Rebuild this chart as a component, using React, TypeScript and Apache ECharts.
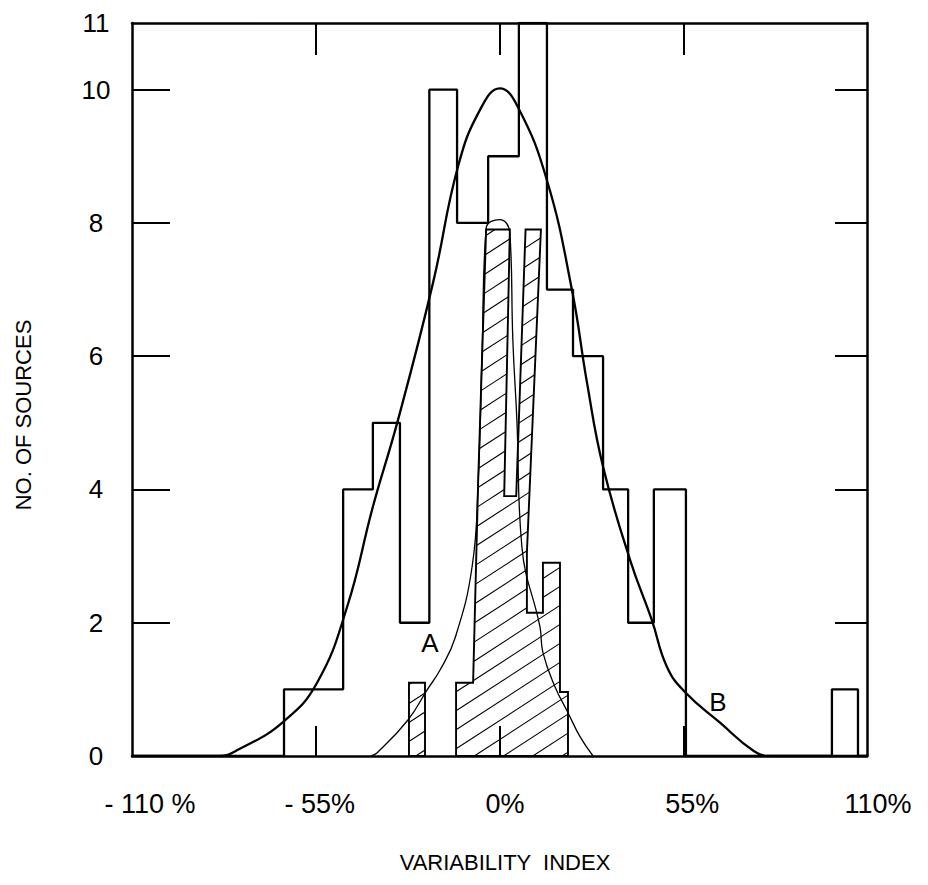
import React, { useEffect, useRef } from "react";
import * as echarts from "echarts";

// ---- data ----
// Outline histogram (broad distribution, curve B)
const binEdgesB = [-64.5, -46.8, -37.9, -29.8, -21.0, -12.7, -3.4, 5.8, 14.2, 22.0, 31.0, 38.5, 46.2, 55.8];
const countsB = [1, 4, 5, 2, 10, 8, 9, 11, 7, 6, 4, 2, 4];
const outlierEdgesB = [99.5, 107.3];
const outlierCountsB = [1];

// Hatched histogram (narrow distribution, curve A), outlines as [x %, count] vertices
const hatchSmallBar = [[-27.1, 0], [-27.1, 1.1], [-22.3, 1.1], [-22.3, 0]];
const hatchMainBars = [
  [-13.0, 0], [-13.0, 1.1], [-7.9, 1.1], [-6.4, 4.1], [-4.0, 7.9], [3.1, 7.9],
  [1.4, 3.9], [5.0, 3.9], [7.8, 7.9], [12.4, 7.9], [8.2, 3.05], [8.2, 2.15],
  [13.0, 2.15], [13.0, 2.9], [18.1, 2.9], [18.1, 0.96], [20.5, 0.96], [20.5, 0],
];
const hatchPolygons = [hatchSmallBar, hatchMainBars];

// Curve B (broad)
const curveB = [
  [-110, 0], [-84, 0], [-78, 0.1], [-64.8, 0.51], [-54.6, 1.1], [-45.6, 2.24], [-37.9, 3.74],
  [-30.4, 5.04], [-19.9, 7.1], [-12.4, 8.85], [-5.8, 9.7], [0.1, 10.02], [5.5, 9.74],
  [14.2, 8.64], [21.7, 6.99], [26.2, 5.6], [31.0, 4.34], [39.1, 2.94], [45.6, 2.04],
  [50.1, 1.34], [55.5, 0.96], [66.0, 0.5], [76, 0.08], [81, 0], [110, 0],
];
// Curve A (narrow)
const curveA = [
  [-38.5, 0], [-36.6, 0.05], [-27.4, 0.54], [-21.7, 0.99], [-17.8, 1.29], [-13.3, 1.77],
  [-8.2, 2.84], [-6.4, 4.1], [-5.2, 6.09], [-4.0, 7.92], [0.1, 8.05], [3.1, 7.85],
  [4.0, 6.24], [5.2, 5.04], [6.7, 3.14], [12.1, 1.94], [13.0, 1.55], [16.6, 1.04],
  [20.5, 0.65], [24.1, 0.29], [28.0, 0],
];

const curveLabels = [[-20.8, 1.7, "A"], [65.4, 0.81, "B"]];

const xTickValues = [-110, -55, 0, 55, 110];
const xTickLabels = ["- 110 %", "- 55%", "0%", "55%", "110%"];
const xMarkValues = [-55, 0, 55];
const yLabelValues = [0, 2, 4, 6, 8, 10, 11];
const yMarkValues = [2, 4, 6, 8, 10];

const X_TITLE = "VARIABILITY  INDEX";
const Y_TITLE = "NO. OF SOURCES";

// ---- styles ----
const FONT = '"Liberation Sans", Arial, sans-serif';
const xLabelShift = [18, 4, 5.5, 9, 11];

function stepOutline(edges: number[], counts: number[]) {
  const pts: number[][] = [[edges[0], 0]];
  for (let i = 0; i < counts.length; i++) {
    pts.push([edges[i], counts[i]]);
    pts.push([edges[i + 1], counts[i]]);
  }
  pts.push([edges[edges.length - 1], 0]);
  return pts;
}

export default function App() {
  const ref = useRef<HTMLDivElement>(null);
  useEffect(() => {
    if (!ref.current) return;
    const chart = echarts.init(ref.current, null, { renderer: "svg" });

    const outline = [
      [-110, 0],
      ...stepOutline(binEdgesB, countsB),
      ...stepOutline(outlierEdgesB, outlierCountsB),
      [110, 0],
    ];

    const hatchTan = Math.tan((33 * Math.PI) / 180);
    const hatchGap = 19;

    const rich: any = {};
    xTickLabels.forEach((_, i) => {
      rich["l" + i] = {
        fontSize: 27,
        fontFamily: FONT,
        color: "#000",
        padding: [0, 0, 0, xLabelShift[i] * 2],
      };
    });

    const axisLineStyle = { color: "#000", width: 2.5 };

    const option: any = {
      animation: false,
      backgroundColor: "#fff",
      grid: { left: 132, right: 61, top: 23, bottom: 129, containLabel: false },
      xAxis: [
        {
          type: "value",
          min: -110,
          max: 110,
          position: "bottom",
          axisLine: { show: true, onZero: false, lineStyle: axisLineStyle },
          axisTick: {
            show: true,
            inside: true,
            length: 30,
            customValues: xMarkValues,
            lineStyle: { color: "#000", width: 2 },
          },
          axisLabel: {
            show: true,
            customValues: xTickValues,
            margin: 34,
            formatter: (v: number) => {
              const i = xTickValues.indexOf(v);
              return "{l" + i + "|" + xTickLabels[i] + "}";
            },
            rich,
          },
          splitLine: { show: false },
        },
        {
          type: "value",
          min: -110,
          max: 110,
          position: "top",
          axisLine: { show: true, onZero: false, lineStyle: axisLineStyle },
          axisTick: {
            show: true,
            inside: true,
            length: 32,
            customValues: xMarkValues,
            lineStyle: { color: "#000", width: 2 },
          },
          axisLabel: { show: false },
          splitLine: { show: false },
        },
      ],
      yAxis: [
        {
          type: "value",
          min: 0,
          max: 11,
          position: "left",
          axisLine: { show: true, onZero: false, lineStyle: axisLineStyle },
          axisTick: {
            show: true,
            inside: true,
            length: 38,
            customValues: yMarkValues,
            lineStyle: { color: "#000", width: 2 },
          },
          axisLabel: {
            show: true,
            customValues: yLabelValues,
            align: "center",
            margin: 36,
            fontSize: 26,
            fontFamily: FONT,
            color: "#000",
          },
          splitLine: { show: false },
        },
        {
          type: "value",
          min: 0,
          max: 11,
          position: "right",
          axisLine: { show: true, onZero: false, lineStyle: axisLineStyle },
          axisTick: {
            show: true,
            inside: true,
            length: 32,
            customValues: yMarkValues,
            lineStyle: { color: "#000", width: 2 },
          },
          axisLabel: { show: false },
          splitLine: { show: false },
        },
      ],
      graphic: [
        {
          type: "text",
          x: 505,
          y: 862,
          style: {
            text: X_TITLE,
            align: "center",
            verticalAlign: "middle",
            fontSize: 22,
            fontFamily: FONT,
            fill: "#000",
          },
        },
        {
          type: "text",
          x: 23,
          y: 415,
          rotation: Math.PI / 2,
          style: {
            text: Y_TITLE,
            align: "center",
            verticalAlign: "middle",
            fontSize: 22,
            fontFamily: FONT,
            fill: "#000",
          },
        },
      ],
      series: [
        {
          type: "custom",
          name: "hatched",
          xAxisIndex: 0,
          yAxisIndex: 0,
          data: hatchPolygons.map((_, i) => [i]),
          clip: true,
          renderItem: (params: any, api: any) => {
            const poly = hatchPolygons[api.value(0)];
            const pts = poly.map((p) => api.coord(p));
            const children: any[] = [];
            let cMin = Infinity;
            let cMax = -Infinity;
            pts.forEach((p: number[]) => {
              const c = p[1] + hatchTan * p[0];
              cMin = Math.min(cMin, c);
              cMax = Math.max(cMax, c);
            });
            const n = pts.length;
            for (let c = Math.ceil(cMin / hatchGap) * hatchGap; c < cMax; c += hatchGap) {
              const xs: number[] = [];
              for (let i = 0; i < n; i++) {
                const p1 = pts[i];
                const p2 = pts[(i + 1) % n];
                const f1 = p1[1] + hatchTan * p1[0] - c;
                const f2 = p2[1] + hatchTan * p2[0] - c;
                if (f1 > 0 !== f2 > 0) {
                  const s = f1 / (f1 - f2);
                  xs.push(p1[0] + s * (p2[0] - p1[0]));
                }
              }
              xs.sort((a, b) => a - b);
              for (let k = 0; k + 1 < xs.length; k += 2) {
                children.push({
                  type: "line",
                  shape: {
                    x1: xs[k],
                    y1: c - hatchTan * xs[k],
                    x2: xs[k + 1],
                    y2: c - hatchTan * xs[k + 1],
                  },
                  style: { stroke: "#000", lineWidth: 1.1 },
                });
              }
            }
            children.push({
              type: "polygon",
              shape: { points: pts },
              style: { fill: "none", stroke: "#000", lineWidth: 1.9 },
            });
            return { type: "group", children };
          },
          z: 2,
        },
        {
          type: "line",
          name: "histogram",
          data: outline,
          symbol: "none",
          lineStyle: { color: "#000", width: 2.3 },
          z: 3,
        },
        {
          type: "line",
          name: "B",
          data: curveB,
          smooth: 0.45,
          symbol: "none",
          lineStyle: { color: "#000", width: 2.3 },
          z: 4,
        },
        {
          type: "line",
          name: "A",
          data: curveA,
          smooth: 0.45,
          symbol: "none",
          lineStyle: { color: "#000", width: 1.3 },
          z: 4,
        },
        {
          type: "scatter",
          name: "labels",
          data: curveLabels,
          symbolSize: 2,
          itemStyle: { color: "rgba(0,0,0,0)" },
          label: {
            show: true,
            position: "inside",
            formatter: (p: any) => p.data[2],
            fontSize: 26,
            fontFamily: FONT,
            color: "#000",
            opacity: 1,
            textBorderWidth: 0,
          },
          emphasis: { disabled: true },
          z: 5,
        },
      ],
    };

    chart.setOption(option);
    return () => chart.dispose();
  }, []);

  return (
    <div
      ref={ref}
      style={{ position: "fixed", left: 0, top: 0, width: 928, height: 885, background: "#fff" }}
    />
  );
}
